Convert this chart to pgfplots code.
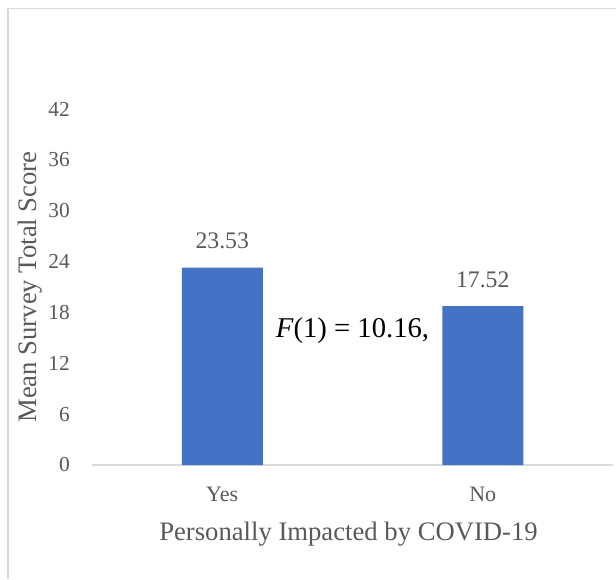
\documentclass[border=0pt]{standalone}
\usepackage{pgfplots}
\pgfplotsset{compat=1.18}
\usepackage{fontspec}
\setmainfont{Liberation Serif}
\definecolor{barblue}{HTML}{4472C4}
\definecolor{txtgray}{HTML}{595959}
\definecolor{linegray}{HTML}{D9D9D9}
\begin{document}
\begin{tikzpicture}[x=0.75pt,y=0.75pt]
\useasboundingbox (0,0) rectangle (616,579);
\draw[linegray, line width=1.1pt] (8,0) -- (8,570.5) -- (616,570.5);
\begin{axis}[
  at={(69pt,85.5pt)}, anchor=south west,
  scale only axis, width=390.75pt, height=267pt,
  xmin=-0.5, xmax=1.5, ymin=0, ymax=42,
  ytick={0,6,...,42},
  xtick={0,1}, xticklabels={Yes,No},
  /pgf/number format/assume math mode=true,
  axis lines*=left,
  axis line style={-},
  y axis line style={draw=none},
  x axis line style={draw=linegray, line width=1.2pt},
  major tick length=0pt,
  yticklabel style={font=\fontsize{16}{16}\selectfont, color=txtgray, anchor=east, inner sep=0pt, xshift=-16.5pt},
  xticklabel style={font=\fontsize{16.5}{16.5}\selectfont, color=txtgray, anchor=north, inner sep=0pt, yshift=-16.5pt},
  xlabel={Personally Impacted by COVID-19},
  xlabel style={at={(axis description cs:0.5,0)}, anchor=north, inner sep=0pt, yshift=-42.75pt, xshift=-3pt, font=\fontsize{20}{20}\selectfont, color=txtgray},
  ylabel={Mean Survey Total Score},
  ylabel style={at={(axis description cs:-0.119,0.5)}, anchor=center, inner sep=0pt, font=\fontsize{20}{20}\selectfont, color=txtgray},
  ybar, bar width=60.75pt,
  every node near coord/.append style={font=\fontsize{17.8}{17.8}\selectfont, color=txtgray, anchor=south, inner sep=0pt, yshift=13.5pt},
  clip=false,
]
\addplot[fill=barblue, draw=none, nodes near coords, point meta=explicit symbolic]
  coordinates {(0,23.3) [23.53] (1,18.75) [17.52]};
\node[font=\fontsize{21.5}{21.5}\selectfont, anchor=base, inner sep=0pt, text=black] at (axis cs:0.5,15.1) {\textit{F}(1) = 10.16,};
\end{axis}
\end{tikzpicture}
\end{document}
